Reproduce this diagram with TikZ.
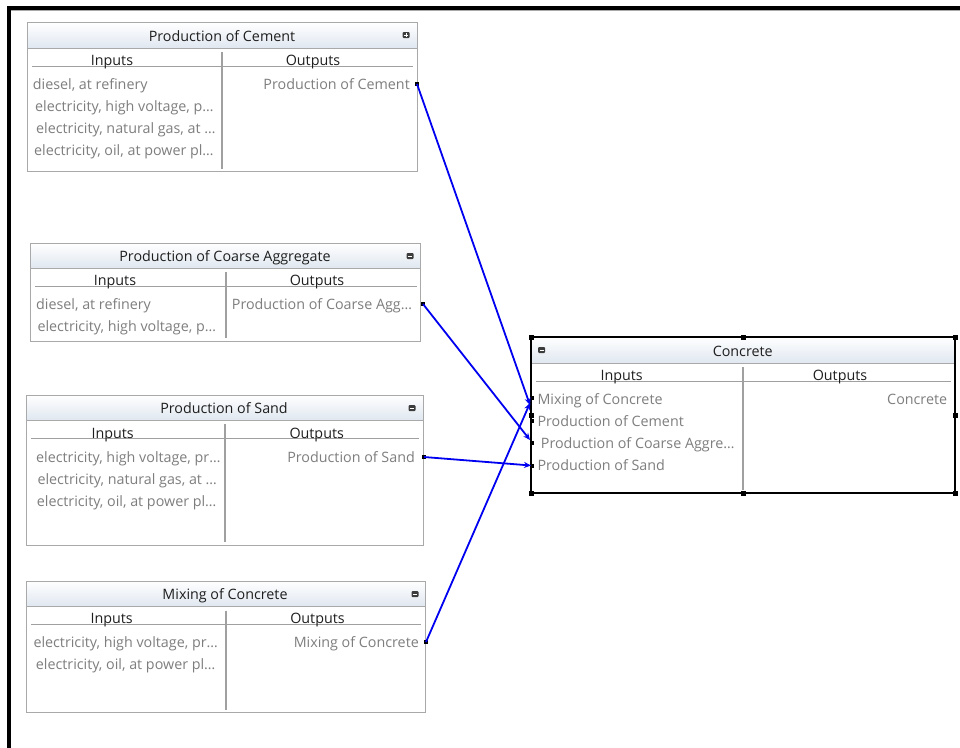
\documentclass[tikz,border=0pt]{standalone}
\usepackage{fontspec}
\setmainfont{Open Sans}
\usetikzlibrary{arrows.meta}

\definecolor{boxgray}{HTML}{A9A9A9}
\definecolor{linegray}{HTML}{A0A0A0}
\definecolor{rowgray}{HTML}{7E7E7E}
\definecolor{inkdark}{HTML}{1E1E1E}
\definecolor{headblue}{HTML}{E0E7F0}
\definecolor{iconbg}{HTML}{3C3C3C}
\definecolor{flowblue}{HTML}{0000F0}

\newcommand\uifont{\fontsize{14.3}{17}\selectfont}

% one process block: name, left, top, right, bottom, header bottom, divider x, underline y
\newcommand\mkprocess[8]{%
  \node[procframe, minimum width={#4-#2}, minimum height={#5-#3}] (#1) at ({(#2+#4)/2},{(#3+#5)/2}) {};
  \shade[headshade] (#2,#3) rectangle (#4,#6);
  \draw[procline] (#2,#6) -- (#4,#6);
  \draw[procline] (#2,#3) rectangle (#4,#5);
  \draw[divline] (#7,#6+4) -- (#7,#5-3);
  \draw[ulline] (#2+5,#8) -- (#4-4,#8);
}

\tikzset{
  procframe/.style={draw=none, fill=white, inner sep=0pt, outer sep=0pt},
  headshade/.style={top color=white, bottom color=headblue},
  procline/.style={draw=boxgray, line width=1pt},
  divline/.style={draw=linegray, line width=1.4pt},
  ulline/.style={draw=linegray, line width=1pt},
  titletxt/.style={font=\uifont, text=inkdark, anchor=base, inner sep=0pt},
  coltxt/.style={font=\uifont, text=inkdark, anchor=base, inner sep=0pt},
  rowtxt/.style={font=\uifont, text=rowgray, anchor=base west, inner sep=0pt},
  outtxt/.style={font=\uifont, text=rowgray, anchor=base east, inner sep=0pt},
  port/.style={fill=black, draw=none, minimum size=4pt, inner sep=0pt, outer sep=0pt},
  handle/.style={fill=black, draw=none, minimum size=5pt, inner sep=0pt, outer sep=0pt},
  iconbox/.style={fill=iconbg, draw=none, rounded corners=1pt, minimum width=7pt, minimum height=6pt, inner sep=0pt},
  flow/.style={draw=flowblue, line width=1.8pt, -{Stealth[length=7pt,width=6pt]}},
}

\begin{document}
\begin{tikzpicture}[x=1pt,y=-1pt]
\useasboundingbox (0,0) rectangle (960,747);
\fill[white] (0,0) rectangle (960,747);

% window frame
\draw[black, line width=4pt] (9,749) -- (9,8) -- (962,8);
\draw[boxgray, line width=1pt] (11,10.5) -- (962,10.5);

% ---------- Production of Cement ----------
\mkprocess{cement}{27}{22.5}{417}{171.5}{48}{222}{66.7}
\node[titletxt] (cement-title) at (222,41) {Production of Cement};
\node[iconbox] (cement-icon) at (406,35) {};
\draw[white, line width=0.8pt] (403.8,35) -- (408.2,35) (406,33.2) -- (406,36.8);
\node[coltxt] (cement-inhead) at (112,65.7) {Inputs};
\node[coltxt] (cement-outhead) at (313,65.7) {Outputs};
\node[rowtxt] (cement-in1) at (32.7,89.3) {diesel, at refinery};
\node[rowtxt] (cement-in2) at (35,111.7) {electricity, high voltage, p…};
\node[rowtxt] (cement-in3) at (36,133.3) {electricity, natural gas, at …};
\node[rowtxt] (cement-in4) at (34,155.7) {electricity, oil, at power pl…};
\node[outtxt] (cement-out1) at (410,89.3) {Production of Cement};
\node[port] (cement-port) at (417,84) {};

% ---------- Production of Coarse Aggregate ----------
\mkprocess{coarse}{30}{243}{420.5}{341}{268}{226}{286.5}
\node[titletxt] (coarse-title) at (225,261) {Production of Coarse Aggregate};
\node[iconbox] (coarse-icon) at (410,256) {};
\draw[white, line width=0.8pt] (407.8,256) -- (412.2,256);
\node[coltxt] (coarse-inhead) at (115,285.5) {Inputs};
\node[coltxt] (coarse-outhead) at (317,285.5) {Outputs};
\node[rowtxt] (coarse-in1) at (36,309) {diesel, at refinery};
\node[rowtxt] (coarse-in2) at (37.3,331) {electricity, high voltage, p…};
\node[rowtxt] (coarse-out1) at (231.7,309) {Production of Coarse Agg…};
\node[port] (coarse-port) at (423,304) {};

% ---------- Production of Sand ----------
\mkprocess{sand}{26}{395}{423}{545}{420}{225}{438.5}
\node[titletxt] (sand-title) at (224,413.3) {Production of Sand};
\node[iconbox] (sand-icon) at (412,408) {};
\draw[white, line width=0.8pt] (409.8,408) -- (414.2,408);
\node[coltxt] (sand-inhead) at (112.7,438.3) {Inputs};
\node[coltxt] (sand-outhead) at (316.7,438.3) {Outputs};
\node[rowtxt] (sand-in1) at (36,462.3) {electricity, high voltage, pr…};
\node[rowtxt] (sand-in2) at (37.3,484.3) {electricity, natural gas, at …};
\node[rowtxt] (sand-in3) at (36.7,506.7) {electricity, oil, at power pl…};
\node[outtxt] (sand-out1) at (415,462.3) {Production of Sand};
\node[port] (sand-port) at (424,457) {};

% ---------- Mixing of Concrete ----------
\mkprocess{mixing}{26}{581}{425}{712.5}{606.5}{226}{624.5}
\node[titletxt] (mixing-title) at (225,599.3) {Mixing of Concrete};
\node[iconbox] (mixing-icon) at (415,594) {};
\draw[white, line width=0.8pt] (412.8,594) -- (417.2,594);
\node[coltxt] (mixing-inhead) at (111.7,623.3) {Inputs};
\node[coltxt] (mixing-outhead) at (317.5,623.3) {Outputs};
\node[rowtxt] (mixing-in1) at (33.3,647.3) {electricity, high voltage, pr…};
\node[rowtxt] (mixing-in2) at (35.7,669.3) {electricity, oil, at power pl…};
\node[outtxt] (mixing-out1) at (419,647.3) {Mixing of Concrete};
\node[port] (mixing-port) at (426,642) {};

% ---------- Concrete (selected) ----------
\mkprocess{concrete}{531}{337}{955}{493}{363}{743}{381}
\draw[black, line width=1.5pt] (531,337) rectangle (955,493);
\node[titletxt] (concrete-title) at (742.7,356) {Concrete};
\node[iconbox] (concrete-icon) at (541.7,350) {};
\draw[white, line width=0.8pt] (539.5,350) -- (543.9,350);
\node[coltxt] (concrete-inhead) at (621.7,380) {Inputs};
\node[coltxt] (concrete-outhead) at (840,380) {Outputs};
\node[rowtxt] (concrete-in1) at (537.3,404) {Mixing of Concrete};
\node[rowtxt] (concrete-in2) at (537.3,426) {Production of Cement};
\node[rowtxt] (concrete-in3) at (540.7,448.3) {Production of Coarse Aggre…};
\node[rowtxt] (concrete-in4) at (537.3,470) {Production of Sand};
\node[outtxt] (concrete-out1) at (947.3,404) {Concrete};

% input ports of Concrete
\node[port] (concrete-port1) at (532,398) {};
\node[port] (concrete-port2) at (532,421) {};
\node[port] (concrete-port3) at (532,443) {};
\node[port] (concrete-port4) at (532,466) {};

% selection handles
\node[handle] (h-nw) at (531,337) {};
\node[handle] (h-n)  at (743,337) {};
\node[handle] (h-ne) at (955,337) {};
\node[handle] (h-w)  at (531,415) {};
\node[handle] (h-e)  at (955,415) {};
\node[handle] (h-sw) at (531,493) {};
\node[handle] (h-s)  at (743,493) {};
\node[handle] (h-se) at (955,493) {};

% arrow ends at the Concrete inputs
\coordinate (to-cement) at (530,405);
\coordinate (to-mixing) at (530,403);
\coordinate (to-coarse) at (530,440);
\coordinate (to-sand)   at (531,465.5);

% flows
\draw[flow] (cement-port.center) -- (to-cement);
\draw[flow] (coarse-port.center) -- (to-coarse);
\draw[flow] (sand-port.center) -- (to-sand);
\draw[flow] (mixing-port.center) -- (to-mixing);
\end{tikzpicture}
\end{document}
